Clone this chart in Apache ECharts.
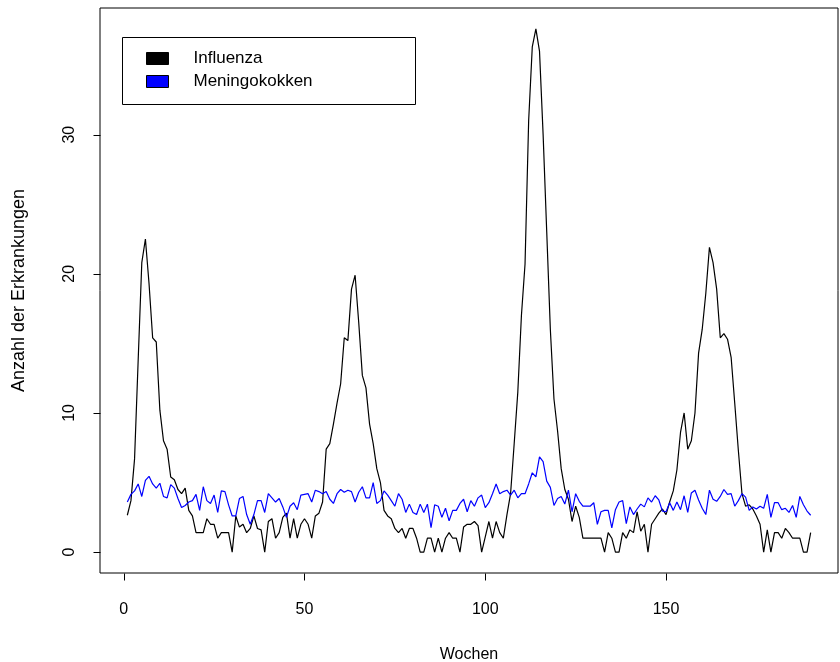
<!DOCTYPE html>
<html>
<head>
<meta charset="utf-8">
<script src="https://cdn.jsdelivr.net/npm/echarts@6/dist/echarts.min.js"></script>
<style>html,body{margin:0;padding:0;background:#fff}#c{width:840px;height:662px}</style>
</head>
<body>
<div id="c"></div>
<script>
const seriesNames = ['Influenza', 'Meningokokken'];
const xTicks = [0, 50, 100, 150];
const yTicks = [0, 10, 20, 30];
const influenza = [
2.65,3.7,6.7,13.8,20.8,22.5,19.3,15.4,15.1,10.2,
8.0,7.4,5.4,5.2,4.5,4.2,4.6,3.0,2.6,1.4,
1.4,1.4,2.4,2.0,2.0,1.0,1.4,1.4,1.4,0,
2.6,1.8,2.0,1.4,1.7,2.6,1.7,1.6,0,2.2,
2.4,1.0,1.4,2.5,2.8,1.0,2.4,1.0,2.0,2.4,
2.0,1.0,2.6,2.8,3.6,7.4,7.8,9.2,10.7,12.1,
15.4,15.2,18.9,19.9,16.5,12.7,11.8,9.2,7.8,6.0,
5.0,3.0,2.6,2.4,1.7,1.4,1.7,1.0,1.7,1.7,
1.0,0,0,1.0,1.0,0,1.0,0,1.0,1.4,
1.0,1.0,0,1.8,2.0,2.0,2.2,1.9,0,1.1,
2.2,1.0,2.2,1.4,1.0,2.7,4.2,7.8,11.5,17,
20.7,31,36.3,37.6,36,30,23,16,11,8.7,
6,4.5,3.8,2.2,3.3,2.5,1.0,1.0,1.0,1.0,
1.0,1.0,0,1.4,1.0,0,0,1.4,1.0,1.6,
1.4,2.9,1.5,2.0,0,2.0,2.4,2.8,3.1,2.7,
3.6,4.4,5.9,8.6,10.0,7.4,8.0,10.0,14.3,16.0,
18.6,21.9,20.8,18.9,15.4,15.7,15.3,14.0,10.7,7.3,
4.2,3.3,3.4,3.1,2.6,2.0,0,1.6,0,1.4,
1.4,1.0,1.7,1.4,1.0,1.0,1.0,0,0,1.4
];
const meningokokken = [
3.6,4.15,4.4,4.9,4.0,5.15,5.45,4.9,4.6,4.95,
4.0,3.9,4.85,4.6,3.85,3.2,3.35,3.6,3.7,4.15,
3.0,4.7,3.7,3.5,4.1,2.85,4.4,4.35,3.4,2.6,
2.6,3.85,4.0,2.7,2.0,2.7,3.7,3.7,2.85,4.2,
3.9,3.6,3.85,3.25,2.5,3.3,3.55,3.05,4.1,4.15,
4.2,3.6,4.45,4.35,4.2,4.35,3.8,3.5,4.2,4.5,
4.3,4.45,4.35,3.6,4.3,4.7,3.9,3.9,5.0,3.5,
3.7,4.4,4.1,3.7,3.3,4.2,3.8,2.85,3.45,2.85,
2.7,3.45,2.85,3.45,1.75,3.4,3.3,2.5,3.15,2.25,
3.0,3.0,3.5,3.8,2.9,3.7,3.3,3.9,4.1,3.2,
3.55,4.2,4.9,4.2,4.35,4.45,4.1,4.45,3.9,4.2,
4.2,4.9,5.7,5.4,6.85,6.5,5.1,4.65,3.35,3.85,
4.0,3.45,4.45,2.9,4.2,3.65,3.3,3.3,3.3,3.55,
2.0,2.9,3.0,3.0,1.75,3.05,3.6,3.7,2.05,3.25,
2.7,3.1,3.45,3.25,3.9,3.6,4.05,3.75,2.95,2.9,
3.55,3.0,3.6,3.05,4.05,2.85,4.25,4.45,3.75,3.15,
2.7,4.45,3.8,3.65,4.0,4.5,4.15,4.2,3.3,3.7,
4.2,3.95,3.0,3.25,3.1,3.3,3.15,4.15,2.5,3.55,
3.55,3.05,3.15,2.85,3.35,2.5,4.0,3.4,2.95,2.65
];

const X_MIN = -6.56, X_MAX = 197.56, Y_MIN = -1.5, Y_MAX = 39.1;
const TICK_LEN = 7;
const toXY = arr => arr.map((v, i) => [i + 1, v]);
const FONT = '"Liberation Sans", Arial, sans-serif';
const chart = echarts.init(document.getElementById('c'), null, {renderer: 'canvas'});

function tickSeries(values, horizontal) {
  return {
    type: 'custom', silent: true, clip: false, z: 5,
    data: values.map(v => horizontal ? [v, Y_MIN] : [X_MIN, v]),
    renderItem: function (params, api) {
      const p = api.coord([api.value(0), api.value(1)]);
      const x = Math.round(p[0]) + 0.5, y = Math.round(p[1]) + 0.5;
      return {
        type: 'line',
        shape: horizontal ? {x1: x, y1: y, x2: x, y2: y + TICK_LEN} : {x1: x, y1: y, x2: x - TICK_LEN, y2: y},
        style: {stroke: '#000', lineWidth: 1}
      };
    }
  };
}

chart.setOption({
  animation: false,
  backgroundColor: '#fff',
  textStyle: {fontFamily: FONT, color: '#000'},
  grid: {left: 100, right: 2, top: 8, bottom: 89, outerBoundsMode: 'none', containLabel: false,
         show: true, borderColor: '#000', borderWidth: 1, backgroundColor: 'transparent'},
  xAxis: {
    type: 'value', min: X_MIN, max: X_MAX,
    name: 'Wochen', nameLocation: 'middle', nameGap: 74,
    nameTextStyle: {fontSize: 16, fontFamily: FONT, color: '#000'},
    axisLine: {show: false, onZero: false},
    axisTick: {show: false},
    axisLabel: {customValues: xTicks, fontSize: 16, fontFamily: FONT, color: '#000', margin: 29},
    splitLine: {show: false}
  },
  yAxis: {
    type: 'value', min: Y_MIN, max: Y_MAX,
    name: 'Anzahl der Erkrankungen', nameLocation: 'middle', nameGap: 72, nameRotate: 90,
    nameTextStyle: {fontSize: 18, fontFamily: FONT, color: '#000'},
    axisLine: {show: false, onZero: false},
    axisTick: {show: false},
    axisLabel: {customValues: yTicks, fontSize: 16, fontFamily: FONT, color: '#000', rotate: 90, margin: 22},
    splitLine: {show: false}
  },
  legend: {
    orient: 'vertical', left: 141, top: 45, icon: 'rect',
    itemWidth: 22, itemHeight: 12, itemGap: 6,
    itemStyle: {borderColor: '#000', borderWidth: 1},
    textStyle: {fontSize: 17, fontFamily: FONT, color: '#000', padding: [0, 0, 0, 20]},
    data: seriesNames
  },
  graphic: [{
    type: 'rect', left: 122, top: 37, z: 0,
    shape: {width: 293, height: 67},
    style: {fill: 'transparent', stroke: '#000', lineWidth: 1}
  }],
  series: [
    {name: seriesNames[0], type: 'line', data: toXY(influenza), showSymbol: false, symbol: 'none',
     lineStyle: {color: '#000', width: 1.2}, itemStyle: {color: '#000'}},
    {name: seriesNames[1], type: 'line', data: toXY(meningokokken), showSymbol: false, symbol: 'none',
     lineStyle: {color: '#0000ff', width: 1.2}, itemStyle: {color: '#0000ff'}},
    tickSeries(xTicks, true),
    tickSeries(yTicks, false)
  ]
});
</script>
</body>
</html>
